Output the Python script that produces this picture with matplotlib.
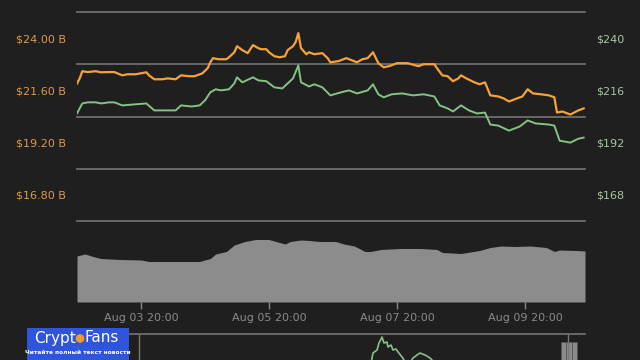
import matplotlib
matplotlib.use("Agg")
import matplotlib.pyplot as plt
from matplotlib.patches import Circle
import pandas as pd

# ---------------- data ----------------
start = pd.Timestamp("2019-08-02 20:00")

cap_hours = [0, 1, 2, 4, 7, 9, 12, 14, 17, 19, 22, 26, 27, 29, 32, 34, 37, 39, 42, 44,
             47, 49, 50, 51, 53, 56, 57, 59, 60, 62, 64, 66, 68, 69, 71, 72, 74, 76, 78,
             79, 81, 82, 83, 84, 86, 87, 89, 92, 94, 95, 98, 101, 105, 107, 109, 111, 113,
             115, 117, 120, 124, 128, 130, 134, 135, 137, 139, 141, 143, 144, 146, 149,
             151, 153, 155, 158, 160, 162, 165, 167, 169, 171, 174, 177, 179, 180, 182,
             185, 188, 190]
cap_values = [21.91, 22.15, 22.48, 22.44, 22.48, 22.43, 22.44, 22.44, 22.29, 22.34, 22.34,
              22.43, 22.29, 22.11, 22.11, 22.15, 22.11, 22.29, 22.25, 22.25, 22.38, 22.62,
              22.89, 23.08, 23.03, 23.03, 23.12, 23.35, 23.63, 23.45, 23.31, 23.68, 23.54,
              23.49, 23.49, 23.35, 23.17, 23.12, 23.17, 23.45, 23.63, 23.82, 24.23, 23.54,
              23.26, 23.35, 23.26, 23.31, 23.08, 22.89, 22.94, 23.08, 22.89, 23.03, 23.08,
              23.35, 22.85, 22.66, 22.71, 22.85, 22.85, 22.71, 22.80, 22.80, 22.62, 22.29,
              22.25, 22.02, 22.15, 22.29, 22.15, 21.97, 21.88, 21.97, 21.37, 21.32, 21.23,
              21.09, 21.23, 21.32, 21.65, 21.46, 21.42, 21.37, 21.28, 20.58, 20.63, 20.49,
              20.68, 20.77]

price_hours = [0, 2, 4, 7, 9, 12, 14, 17, 21, 26, 29, 33, 37, 39, 43, 46, 48, 50, 52, 54,
               57, 59, 60, 62, 66, 68, 71, 74, 77, 79, 81, 83, 84, 87, 89, 92, 95, 99, 102,
               105, 109, 111, 113, 115, 118, 122, 126, 130, 134, 136, 139, 141, 144, 147,
               150, 153, 155, 158, 162, 166, 169, 172, 177, 179, 181, 185, 188, 190]
price_values = [205.4, 210.0, 210.5, 210.5, 210.0, 210.5, 210.5, 209.1, 209.5, 210.0, 206.8,
                206.8, 206.8, 209.1, 208.6, 209.1, 211.4, 215.1, 216.5, 216.0, 216.5, 219.2,
                222.0, 219.7, 222.0, 220.6, 220.2, 217.4, 216.9, 219.2, 221.5, 227.5, 219.7,
                217.8, 218.8, 217.4, 213.7, 215.1, 216.0, 214.6, 216.0, 218.8, 214.2, 212.8,
                214.2, 214.6, 213.7, 214.2, 213.2, 209.1, 207.7, 206.3, 209.1, 206.8, 205.4,
                205.8, 200.3, 199.8, 197.5, 199.4, 202.2, 200.8, 200.3, 199.8, 192.9, 192.0,
                193.8, 194.3]

vol_hours = [0, 3, 6, 9, 16, 24, 27, 35, 46, 50, 52, 56, 59, 63, 67, 72, 76, 78, 80, 84,
             87, 91, 97, 100, 104, 108, 110, 114, 121, 129, 135, 137, 144, 151, 155, 159,
             164, 170, 176, 179, 181, 187, 190.5]
vol_values = [9.2, 9.6, 9.1, 8.7, 8.5, 8.4, 8.1, 8.1, 8.1, 8.7, 9.6, 10.1, 11.4, 12.1, 12.5,
              12.5, 11.9, 11.6, 12.1, 12.4, 12.3, 12.1, 12.1, 11.6, 11.2, 10.1, 10.1, 10.5,
              10.7, 10.7, 10.5, 9.9, 9.7, 10.3, 10.9, 11.2, 11.1, 11.2, 10.9, 10.1, 10.4,
              10.3, 10.2]

nav_hours = [110.5, 111, 112.5, 113.25, 114.4, 115.1, 116.25, 116.6, 117.75, 118.5, 119.6,
             120.4, 121.9, 122.6, 124.1, 126, 127.5, 128.6, 130.5, 132.4, 133.1]
nav_values = [20, 27, 30, 37, 43, 37, 38, 33, 35, 30, 31, 28, 23, 20, 14, 22, 25, 27, 25,
              22, 20]
nav_bar_hours = [182.5, 184.5, 186.5]
nav_bar_values = [38, 38, 38]
nav_marker_hours = [23.25, 184]

cap_ticks = [24.0, 21.6, 19.2, 16.8]
cap_labels = ["$24.00 B", "$21.60 B", "$19.20 B", "$16.80 B"]
price_ticks = [240, 216, 192, 168]
price_labels = ["$240", "$216", "$192", "$168"]
x_tick_times = ["2019-08-03 20:00", "2019-08-05 20:00", "2019-08-07 20:00", "2019-08-09 20:00"]

# ---------------- styling ----------------
BG = "#1f1f1f"
ORANGE = "#f5a23a"
GREEN = "#86c286"
GRID = "#6e6e6e"
W, H = 640, 360


def rect(l, t, r, b):
    return [l / W, 1 - b / H, (r - l) / W, (b - t) / H]


def to_dates(hours):
    return [start + pd.Timedelta(hours=h) for h in hours]


xmin = start
xmax = start + pd.Timedelta(hours=190.5)

fig = plt.figure(figsize=(6.4, 3.6), dpi=100, facecolor=BG)

# main price / market cap panel
ax = fig.add_axes(rect(77, 12, 585, 221))
ax.set_facecolor("none")
ax.set_xlim(xmin, xmax)
ax.set_ylim(15.6, 25.2)
for g in [25.2, 22.8, 20.4, 18.0, 15.6]:
    ax.axhline(g, color=GRID, lw=1.3, clip_on=False, zorder=1)
ax.plot(to_dates(cap_hours), cap_values, color=ORANGE, lw=1.6, zorder=3)
ax.set_yticks(cap_ticks)
ax.set_yticklabels(cap_labels)
ax.tick_params(axis="y", length=0, pad=8, labelsize=8, labelcolor="#e09a45")
ax.tick_params(axis="x", bottom=False, labelbottom=False)
for s in ax.spines.values():
    s.set_visible(False)

ax2 = ax.twinx()
ax2.set_ylim(156, 252)
ax2.plot(to_dates(price_hours), price_values, color=GREEN, lw=1.4, zorder=3)
ax2.set_yticks(price_ticks)
ax2.set_yticklabels(price_labels)
ax2.tick_params(axis="y", length=0, pad=8, labelsize=8, labelcolor="#a9c7a0")
for s in ax2.spines.values():
    s.set_visible(False)

# volume panel
axv = fig.add_axes(rect(77, 221, 585, 302))
axv.set_facecolor("none")
axv.set_xlim(xmin, xmax)
axv.set_ylim(0, 16.2)
vd = to_dates(vol_hours)
axv.fill_between(vd, vol_values, 0, color="#8c8c8c", lw=0)
axv.set_yticks([])
axv.set_xticks(to_dates([24, 72, 120, 168]))
axv.set_xticklabels([pd.Timestamp(t).strftime("%b %d %H:%M") for t in x_tick_times])
axv.tick_params(axis="x", length=5, width=1, color="#8a8a8a", labelsize=8,
                labelcolor="#8a8a8a", pad=3)
for s in axv.spines.values():
    s.set_visible(False)

# navigator panel (partially visible at the bottom)
axn = fig.add_axes(rect(77, 334, 585, 380))
axn.set_facecolor("none")
axn.set_xlim(xmin, xmax)
axn.set_ylim(0, 46)
axn.plot(to_dates(nav_hours), nav_values, color=GREEN, lw=1.2)
axn.bar(to_dates(nav_bar_hours), nav_bar_values, width=pd.Timedelta(hours=1.9),
        color="#8a8a8a", edgecolor="#555555", lw=0.6)
for h in nav_marker_hours:
    axn.axvline(start + pd.Timedelta(hours=h), color="#777777", lw=1)
axn.set_xticks([])
axn.set_yticks([])
for k, s in axn.spines.items():
    s.set_visible(k == "top")
axn.spines["top"].set_color(GRID)
axn.spines["top"].set_linewidth(1.3)

# CryptoFans badge
axl = fig.add_axes(rect(27, 328, 129, 360))
axl.set_xlim(27, 129)
axl.set_ylim(360, 328)
axl.set_facecolor("#2f55dc")
axl.set_xticks([])
axl.set_yticks([])
for s in axl.spines.values():
    s.set_visible(False)
axl.text(76, 338, "Crypt", color="white", fontsize=11, ha="right", va="center")
axl.add_patch(Circle((80, 338.5), 3.6, color="#f39a2b"))
axl.text(84, 338, "Fans", color="white", fontsize=11, ha="left", va="center")
axl.text(78, 353, "Читайте полный текст новости", color="white", fontsize=4.2,
         ha="center", va="center", fontweight="bold")

fig.savefig("out.png", dpi=100, facecolor=BG)
